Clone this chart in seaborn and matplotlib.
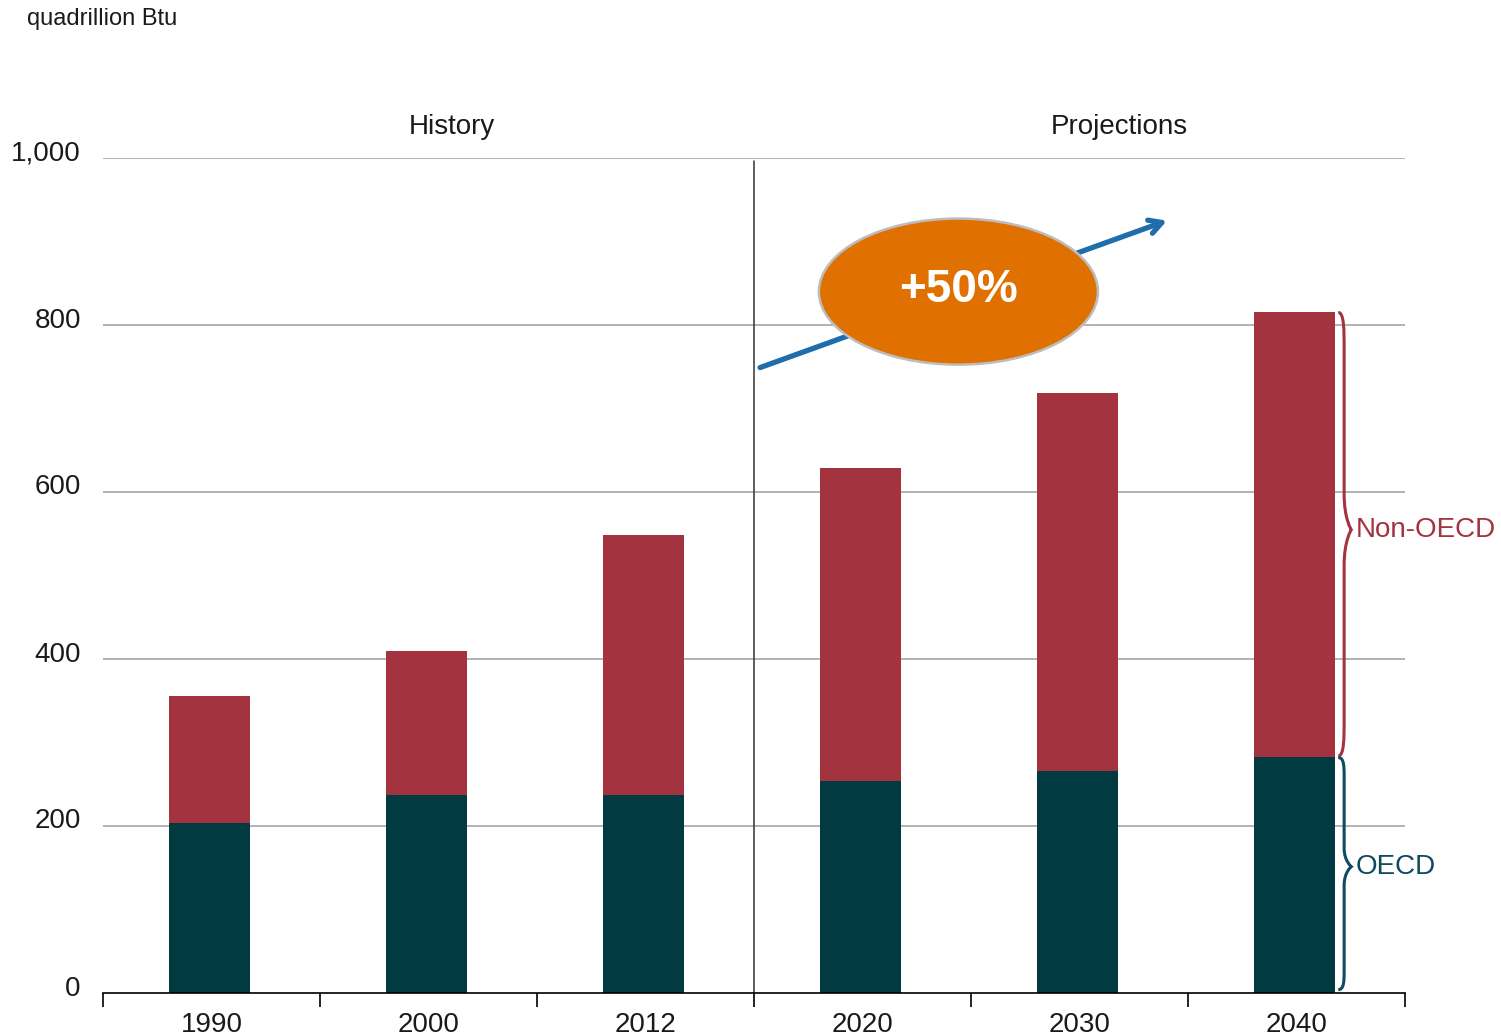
import numpy as np
import pandas as pd
import matplotlib
matplotlib.use("Agg")
import matplotlib.pyplot as plt
import seaborn as sns
from matplotlib.path import Path
from matplotlib.patches import PathPatch, Ellipse
from matplotlib.transforms import ScaledTranslation

# ==============================
# DATA (quadrillion Btu)
# ==============================

YEARS = ["1990", "2000", "2012", "2020", "2030", "2040"]
OECD = [204, 237, 237, 254, 266, 283]
NON_OECD = [152, 173, 312, 375, 453, 532]
Y_TICKS = [0, 200, 400, 600, 800, 1000]
Y_TICK_LABELS = ["0", "200", "400", "600", "800", "1,000"]

RED = "#A3333F"
TEAL = "#023A42"
BLUE_TXT = "#0E4A60"
ORANGE = "#E07000"
ARROW = "#1F6DAA"

# ==============================
# STYLE
# ==============================

sns.set_style("white")
plt.rcParams["font.family"] = ["Liberation Sans", "DejaVu Sans"]

df = pd.DataFrame({"Year": YEARS, "OECD": OECD, "NonOECD": NON_OECD})
df["Total"] = df["OECD"] + df["NonOECD"]

fig = plt.figure(figsize=(15.01, 10.36), dpi=100)
ax = fig.add_axes([103 / 1501, 1 - 993 / 1036, 1302 / 1501, 835 / 1036])

# ==============================
# STACKED BARS
# ==============================

sns.barplot(data=df, x="Year", y="Total", color=RED, width=0.375,
            saturation=1, linewidth=0, ax=ax, zorder=3)
sns.barplot(data=df, x="Year", y="OECD", color=TEAL, width=0.375,
            saturation=1, linewidth=0, ax=ax, zorder=3)

# bars sit a touch left of the category centre in the original
for p in ax.patches:
    p.set_x(p.get_x() - 0.01)

ax.set_xlim(-0.5, len(YEARS) - 0.5)
ax.set_ylim(0, 1000)
ax.set_xlabel("")
ax.set_ylabel("")

# grid + spines
for v in Y_TICKS[1:]:
    ax.axhline(v, color="#A6A6A6", lw=1.2, zorder=1)
for s in ["left", "right", "top"]:
    ax.spines[s].set_visible(False)
ax.spines["bottom"].set_color("black")
ax.spines["bottom"].set_linewidth(1.2)
ax.spines["bottom"].set_zorder(4)

ax.set_yticks(Y_TICKS)
ax.set_yticklabels(Y_TICK_LABELS, fontsize=20, color="#1a1a1a")
ax.tick_params(axis="y", length=0, pad=16)
for lab in ax.get_yticklabels():
    lab.set_transform(lab.get_transform() +
                      ScaledTranslation(0, 7.5 / 100, fig.dpi_scale_trans))

ax.set_xticks(range(len(YEARS)))
ax.set_xticklabels(YEARS, fontsize=20, color="#1a1a1a")
ax.set_xticks(np.arange(-0.5, len(YEARS)), minor=True)
ax.tick_params(axis="x", which="both", bottom=True)
ax.tick_params(axis="x", which="major", length=0, pad=14)
ax.tick_params(axis="x", which="minor", length=10, width=1.2,
               color="black", direction="out")

# history / projections divider
ax.axvline(2.5, ymax=0.997, color="#333333", lw=1.1, zorder=4)

fig.text(452 / 1501, 1 - 127 / 1036, "History", fontsize=20,
         ha="center", va="center", color="#1a1a1a")
fig.text(1119 / 1501, 1 - 127 / 1036, "Projections", fontsize=20,
         ha="center", va="center", color="#1a1a1a")
fig.text(27 / 1501, 1 - 19 / 1036, "quadrillion Btu", fontsize=17,
         ha="left", va="center", color="#1a1a1a")

# ==============================
# GROWTH ARROW + BADGE
# ==============================

ax.annotate("", xy=(4.403, 925), xytext=(2.528, 749),
            arrowprops=dict(arrowstyle="->,head_length=0.9,head_width=0.5",
                            color=ARROW, lw=3.8, shrinkA=0, shrinkB=0),
            zorder=5, annotation_clip=False)
badge = Ellipse((3.442, 840), width=1.286, height=175, facecolor=ORANGE,
                edgecolor="#BDBDBD", lw=1.8, zorder=6, clip_on=False)
ax.add_patch(badge)
ax.text(3.442, 842, "+50%", fontsize=33, fontweight="bold", color="white",
        ha="center", va="center", zorder=7)

# ==============================
# BRACES
# ==============================


def brace(ax, x0, y0, y1, d, color, frac=0.53):
    ym = y0 + (y1 - y0) * frac
    r = (y1 - y0) * 0.04
    xm = x0 + d * 0.45
    verts = [
        (x0, y1),
        (xm, y1), (xm, y1 - r), (xm, y1 - 2 * r),
        (xm, ym + 2 * r),
        (xm, ym + r * 0.6), (x0 + d, ym), (x0 + d, ym),
        (x0 + d, ym), (xm, ym - r * 0.6), (xm, ym - 2 * r),
        (xm, y0 + 2 * r),
        (xm, y0 + r), (xm, y0), (x0, y0),
    ]
    codes = ([Path.MOVETO] + [Path.CURVE4] * 3 + [Path.LINETO] +
             [Path.CURVE4] * 3 + [Path.CURVE4] * 3 + [Path.LINETO] +
             [Path.CURVE4] * 3)
    ax.add_patch(PathPatch(Path(verts, codes), facecolor="none",
                           edgecolor=color, lw=2.2, clip_on=False, zorder=5))
    return x0 + d, ym


last = len(YEARS) - 1
bx = last + 0.375 / 2 + 0.005
tip_x, mid_n = brace(ax, bx, df["OECD"].iloc[-1] + 1, df["Total"].iloc[-1],
                     0.06, RED, frac=0.51)
ax.text(tip_x + 0.02, mid_n, "Non-OECD", fontsize=20, color=RED,
        ha="left", va="center", clip_on=False)
tip_x, mid_o = brace(ax, bx, 4, df["OECD"].iloc[-1] - 1, 0.06, BLUE_TXT,
                     frac=0.53)
ax.text(tip_x + 0.02, mid_o, "OECD", fontsize=20, color=BLUE_TXT,
        ha="left", va="center", clip_on=False)

plt.savefig("out.png", dpi=100)
plt.close()
